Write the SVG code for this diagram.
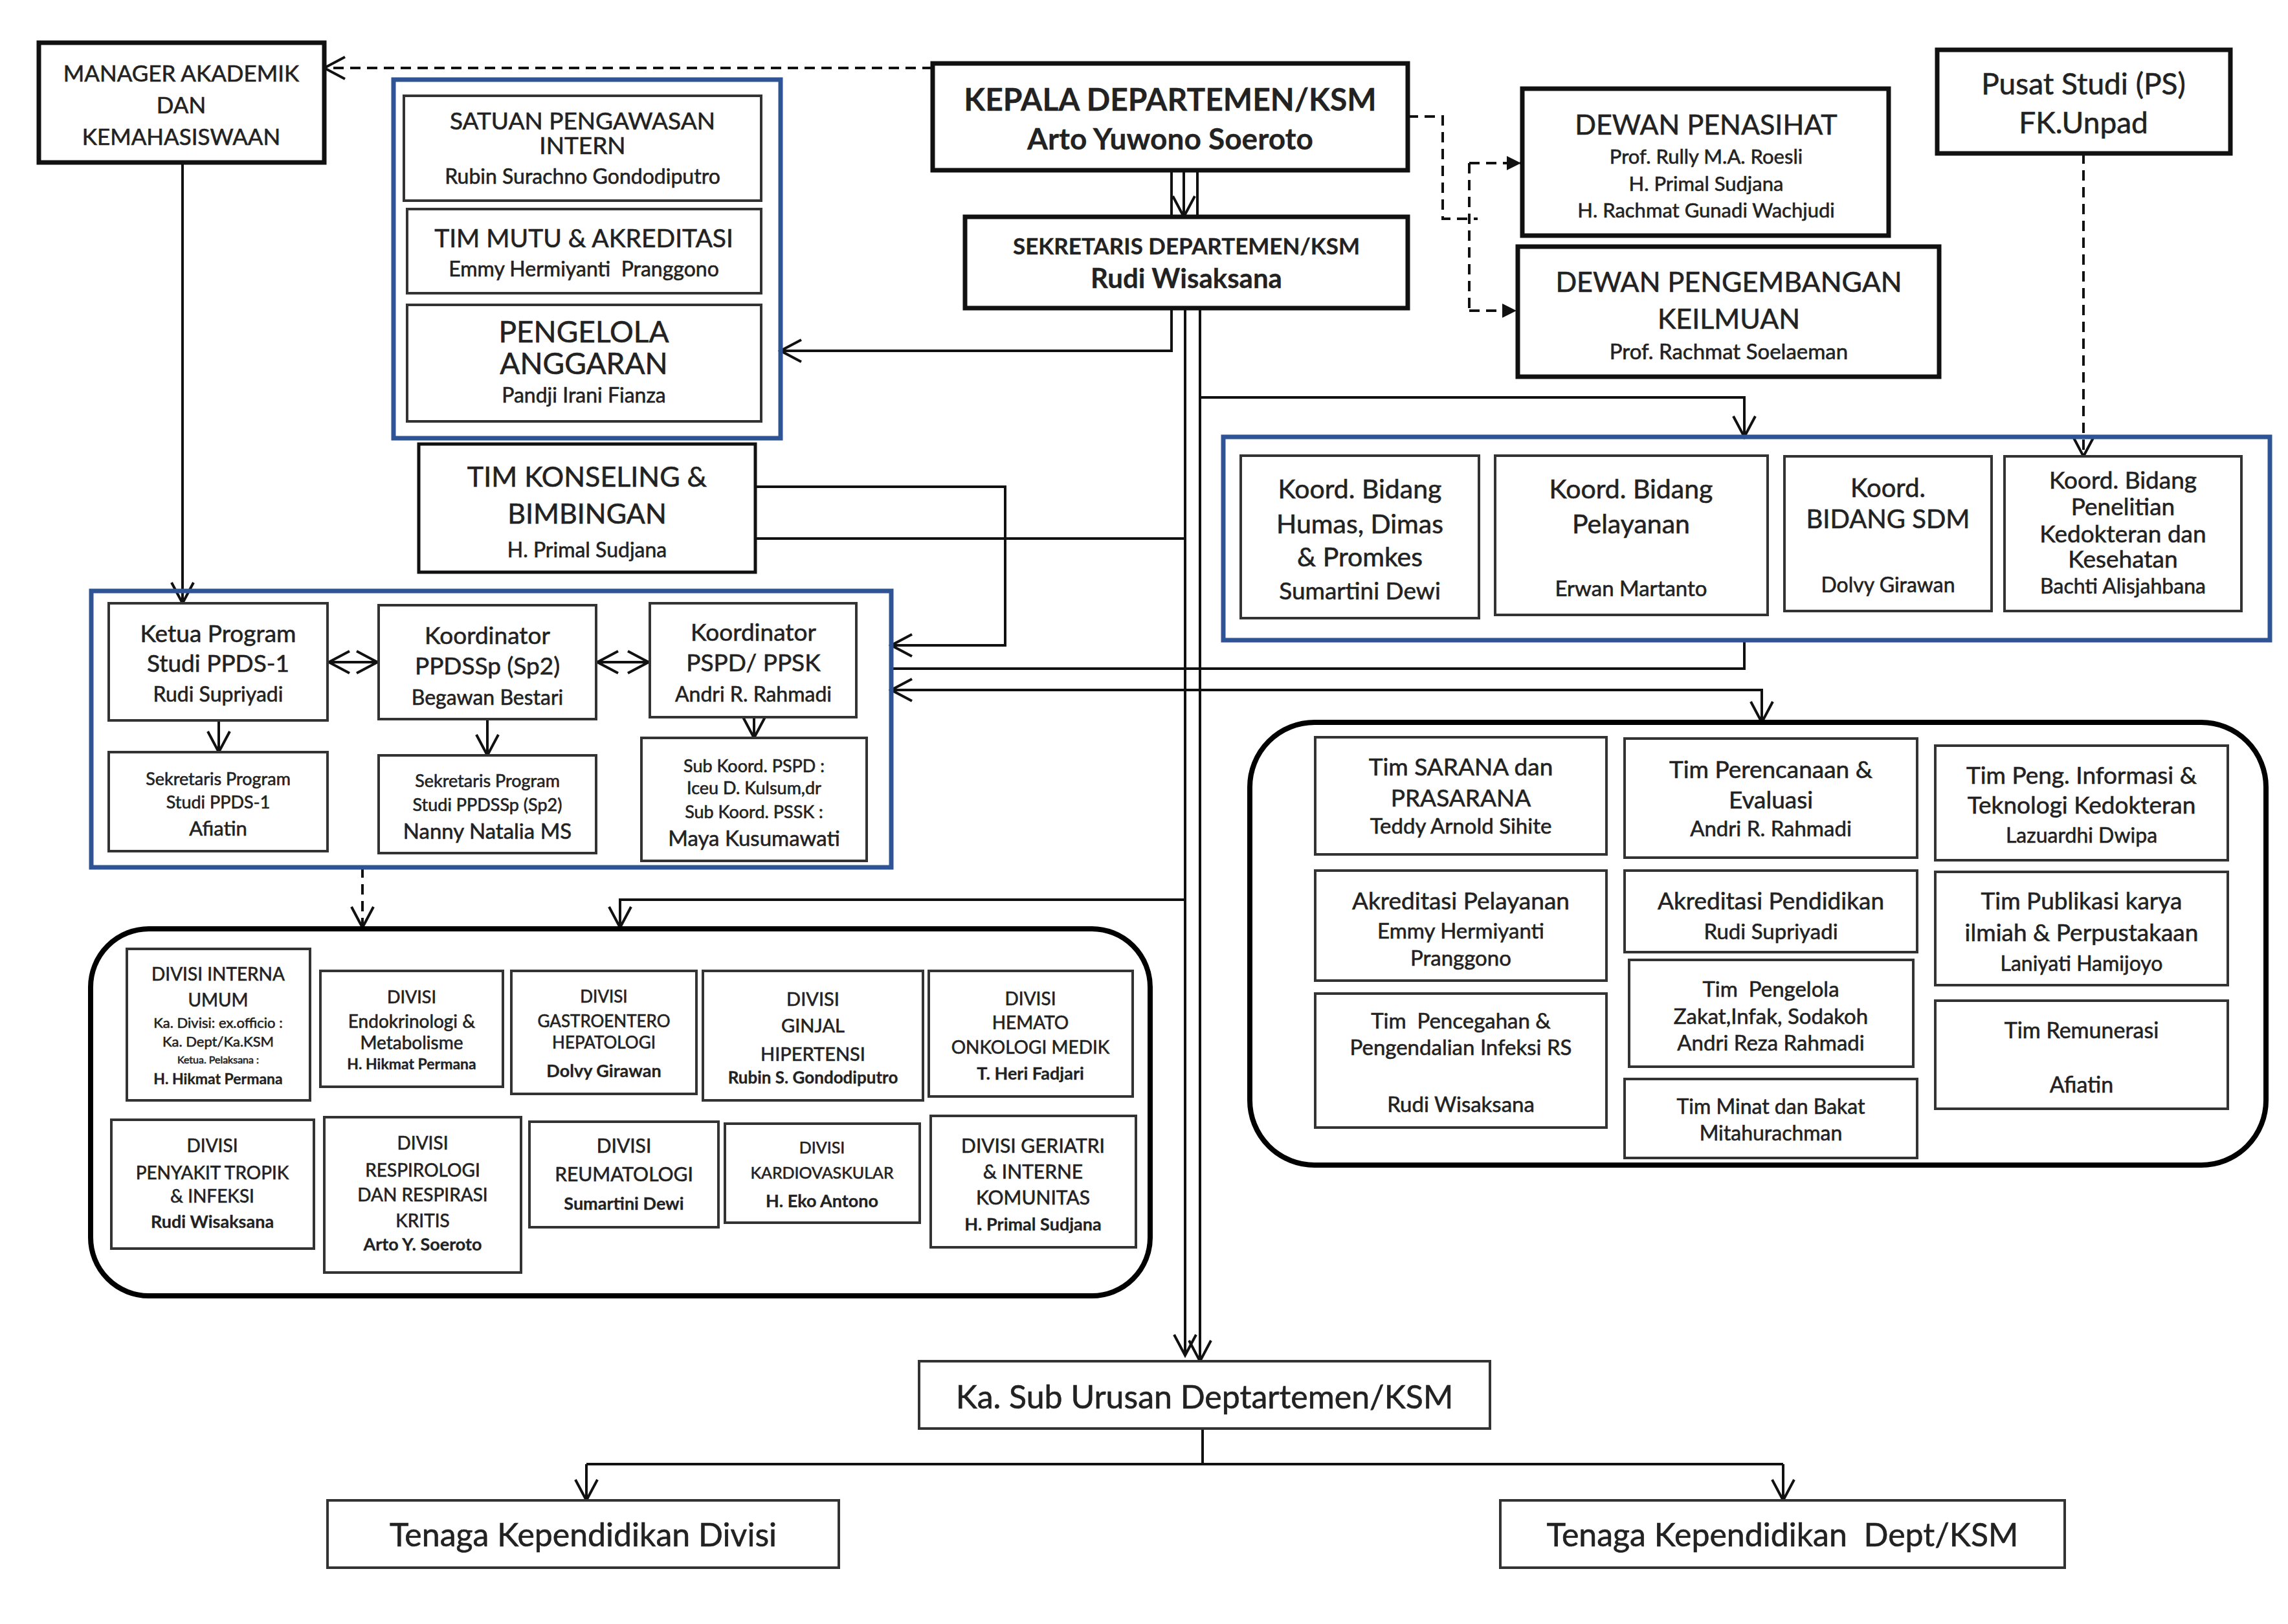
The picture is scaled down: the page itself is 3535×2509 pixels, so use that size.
<svg xmlns="http://www.w3.org/2000/svg" width="3535" height="2509" viewBox="0 0 3535 2509">
<style>
.bg{fill:#fff}
.box{fill:#fff;stroke:#111;stroke-width:7}
.ibox{fill:#fff;stroke:#333;stroke-width:4}
.blue{fill:none;stroke:#2f5496;stroke-width:7}
.rbox{fill:none;stroke:#000;stroke-width:8}
.ln{fill:none;stroke:#111;stroke-width:4}
.dash{stroke-dasharray:16 10}
text{font-family:Lato,"Liberation Sans",sans-serif;fill:#222;stroke:#222;stroke-width:0.6;text-anchor:middle;dominant-baseline:central}
.b{font-weight:bold;stroke-width:0.3}
.pre{white-space:pre}
</style>
<defs>
<marker id="ah" viewBox="0 0 40 40" refX="36" refY="20" markerWidth="40" markerHeight="40" markerUnits="userSpaceOnUse" orient="auto-start-reverse">
<path d="M4,3 L36,20 L4,37" fill="none" stroke="#111" stroke-width="4"/>
</marker>
<marker id="tri" viewBox="0 0 30 30" refX="26" refY="15" markerWidth="30" markerHeight="30" markerUnits="userSpaceOnUse" orient="auto">
<path d="M4,4 L26,15 L4,26 Z" fill="#111"/>
</marker>
</defs>
<rect class="bg" x="0" y="0" width="3535" height="2509"/>

<g id="connectors">
<path class="ln dash" d="M1441,105 H501" marker-end="url(#ah)"/>
<path class="ln" d="M1810,263 V335"/>
<path class="ln" d="M1850,263 V335"/>
<path class="ln" d="M1829,263 V335" marker-end="url(#ah)"/>
<path class="ln" d="M1810,476 V542 H1206" marker-end="url(#ah)"/>
<path class="ln" d="M1831,476 V2094" marker-end="url(#ah)"/>
<path class="ln" d="M1854,476 V2103" marker-end="url(#ah)"/>
<path class="ln" d="M1854,614 H2695 V675" marker-end="url(#ah)"/>
<path class="ln" d="M1167,832 H1831"/>
<path class="ln" d="M1167,752 H1553 V997 H1377" marker-end="url(#ah)"/>
<path class="ln" d="M1377,1033 H2695 V989"/>
<path class="ln" d="M1377,1066 H2722 V1116" marker-start="url(#ah)" marker-end="url(#ah)"/>
<path class="ln" d="M282,251 V932" marker-end="url(#ah)"/>
<path class="ln" d="M508,1023 H583" marker-start="url(#ah)" marker-end="url(#ah)"/>
<path class="ln" d="M923,1023 H1002" marker-start="url(#ah)" marker-end="url(#ah)"/>
<path class="ln" d="M338,1113 V1162" marker-end="url(#ah)"/>
<path class="ln" d="M753,1111 V1167" marker-end="url(#ah)"/>
<path class="ln" d="M1165,1108 V1140" marker-end="url(#ah)"/>
<path class="ln dash" d="M560,1340 V1433" marker-end="url(#ah)"/>
<path class="ln" d="M1831,1390 H958 V1433" marker-end="url(#ah)"/>
<path class="ln dash" d="M2175,180 H2229 V338 H2283"/>
<path class="ln dash" d="M2270,252 V480"/>
<path class="ln dash" d="M2270,252 H2350" marker-end="url(#tri)"/>
<path class="ln dash" d="M2270,480 H2343" marker-end="url(#tri)"/>
<path class="ln dash" d="M3219,237 V705" marker-end="url(#ah)"/>
<path class="ln" d="M1858,2207 V2262"/>
<path class="ln" d="M906,2262 H2755"/>
<path class="ln" d="M906,2262 V2318" marker-end="url(#ah)"/>
<path class="ln" d="M2755,2262 V2318" marker-end="url(#ah)"/>
</g>

<g id="manager">
<rect class="box" x="60" y="66" width="441" height="185"/>
<text x="280" y="112" font-size="35">MANAGER AKADEMIK</text>
<text x="280" y="161" font-size="35">DAN</text>
<text x="280" y="210" font-size="35">KEMAHASISWAAN</text>
</g>

<g id="group-pengawasan">
<rect class="blue" x="608" y="123" width="598" height="554"/>
<g id="satuan">
<rect class="ibox" x="624" y="148" width="552" height="162"/>
<text x="900" y="185" font-size="37">SATUAN PENGAWASAN</text>
<text x="900" y="223" font-size="37">INTERN</text>
<text x="900" y="271" font-size="32">Rubin Surachno Gondodiputro</text>
</g>
<g id="timmutu">
<rect class="ibox" x="629" y="323" width="547" height="130"/>
<text x="902" y="367" font-size="39">TIM MUTU &amp; AKREDITASI</text>
<text class="pre" x="902" y="414" font-size="32" xml:space="preserve">Emmy Hermiyanti  Pranggono</text>
</g>
<g id="pengelola">
<rect class="ibox" x="629" y="471" width="547" height="180"/>
<text x="902" y="511" font-size="46">PENGELOLA</text>
<text x="902" y="560" font-size="46">ANGGARAN</text>
<text x="902" y="609" font-size="32">Pandji Irani Fianza</text>
</g>
</g>

<g id="kepala">
<rect class="box" x="1441" y="98" width="734" height="165"/>
<text class="b" x="1808" y="152" font-size="48">KEPALA DEPARTEMEN/KSM</text>
<text class="b" x="1808" y="213" font-size="46">Arto Yuwono Soeroto</text>
</g>

<g id="sekretaris">
<rect class="box" x="1491" y="335" width="684" height="141"/>
<text class="b" x="1833" y="379" font-size="35">SEKRETARIS DEPARTEMEN/KSM</text>
<text class="b" x="1833" y="429" font-size="42">Rudi Wisaksana</text>
</g>

<g id="dewan-penasihat">
<rect class="box" x="2352" y="137" width="566" height="227"/>
<text x="2636" y="191" font-size="43">DEWAN PENASIHAT</text>
<text x="2636" y="241" font-size="31">Prof. Rully M.A. Roesli</text>
<text x="2636" y="283" font-size="31">H. Primal Sudjana</text>
<text x="2636" y="324" font-size="31">H. Rachmat Gunadi Wachjudi</text>
</g>

<g id="dewan-pengembangan">
<rect class="box" x="2345" y="381" width="651" height="201"/>
<text x="2671" y="434" font-size="43">DEWAN PENGEMBANGAN</text>
<text x="2671" y="491" font-size="43">KEILMUAN</text>
<text x="2671" y="542" font-size="33">Prof. Rachmat Soelaeman</text>
</g>

<g id="pusat-studi">
<rect class="box" x="2993" y="77" width="453" height="160"/>
<text x="3219" y="128" font-size="46">Pusat Studi (PS)</text>
<text x="3219" y="188" font-size="46">FK.Unpad</text>
</g>

<g id="tim-konseling">
<rect class="box" x="647" y="686" width="520" height="198" style="stroke-width:5"/>
<text x="907" y="735" font-size="43">TIM KONSELING &amp;</text>
<text x="907" y="792" font-size="43">BIMBINGAN</text>
<text x="907" y="848" font-size="32">H. Primal Sudjana</text>
</g>

<g id="group-program">
<rect class="blue" x="141" y="913" width="1236" height="427"/>
<g id="ketua">
<rect class="ibox" x="168" y="932" width="338" height="181"/>
<text x="337" y="977" font-size="37">Ketua Program</text>
<text x="337" y="1023" font-size="37">Studi PPDS-1</text>
<text x="337" y="1071" font-size="32">Rudi Supriyadi</text>
</g>
<g id="koord-ppdssp">
<rect class="ibox" x="585" y="935" width="336" height="176"/>
<text x="753" y="980" font-size="37">Koordinator</text>
<text x="753" y="1027" font-size="37">PPDSSp (Sp2)</text>
<text x="753" y="1076" font-size="32">Begawan Bestari</text>
</g>
<g id="koord-pspd">
<rect class="ibox" x="1004" y="932" width="319" height="176"/>
<text x="1164" y="975" font-size="37">Koordinator</text>
<text x="1164" y="1022" font-size="37">PSPD/ PPSK</text>
<text x="1164" y="1071" font-size="32">Andri R. Rahmadi</text>
</g>
<g id="sek-ppds1">
<rect class="ibox" x="168" y="1162" width="338" height="153"/>
<text x="337" y="1202" font-size="27">Sekretaris Program</text>
<text x="337" y="1238" font-size="27">Studi PPDS-1</text>
<text x="337" y="1279" font-size="31">Afiatin</text>
</g>
<g id="sek-ppdssp">
<rect class="ibox" x="585" y="1167" width="336" height="151"/>
<text x="753" y="1205" font-size="27">Sekretaris Program</text>
<text x="753" y="1242" font-size="27">Studi PPDSSp (Sp2)</text>
<text x="753" y="1283" font-size="33">Nanny Natalia MS</text>
</g>
<g id="subkoord">
<rect class="ibox" x="991" y="1140" width="348" height="190"/>
<text x="1165" y="1182" font-size="27">Sub Koord. PSPD :</text>
<text x="1165" y="1216" font-size="27">Iceu D. Kulsum,dr</text>
<text x="1165" y="1253" font-size="27">Sub Koord. PSSK :</text>
<text x="1165" y="1294" font-size="33">Maya Kusumawati</text>
</g>
</g>

<g id="group-koord-bidang">
<rect class="blue" x="1890" y="675" width="1617" height="314"/>
<g id="humas">
<rect class="ibox" x="1917" y="704" width="368" height="251"/>
<text x="2101" y="754" font-size="41">Koord. Bidang</text>
<text x="2101" y="808" font-size="41">Humas, Dimas</text>
<text x="2101" y="859" font-size="41">&amp; Promkes</text>
<text x="2101" y="911" font-size="37">Sumartini Dewi</text>
</g>
<g id="pelayanan">
<rect class="ibox" x="2310" y="704" width="421" height="246"/>
<text x="2520" y="754" font-size="41">Koord. Bidang</text>
<text x="2520" y="808" font-size="41">Pelayanan</text>
<text x="2520" y="908" font-size="33">Erwan Martanto</text>
</g>
<g id="sdm">
<rect class="ibox" x="2757" y="705" width="320" height="239"/>
<text x="2917" y="753" font-size="40">Koord.</text>
<text x="2917" y="801" font-size="40">BIDANG SDM</text>
<text x="2917" y="902" font-size="32">Dolvy Girawan</text>
</g>
<g id="penelitian">
<rect class="ibox" x="3097" y="705" width="366" height="239"/>
<text x="3280" y="740" font-size="37">Koord. Bidang</text>
<text x="3280" y="781" font-size="37">Penelitian</text>
<text x="3280" y="823" font-size="37">Kedokteran dan</text>
<text x="3280" y="862" font-size="37">Kesehatan</text>
<text x="3280" y="904" font-size="32">Bachti Alisjahbana</text>
</g>
</g>

<g id="group-tim">
<rect class="rbox" x="1931" y="1116" width="1570" height="684" rx="100" ry="100"/>
<g id="tim-sarana">
<rect class="ibox" x="2032" y="1139" width="450" height="181"/>
<text x="2257" y="1183" font-size="37">Tim SARANA dan</text>
<text x="2257" y="1231" font-size="37">PRASARANA</text>
<text x="2257" y="1275" font-size="33">Teddy Arnold Sihite</text>
</g>
<g id="akr-pelayanan">
<rect class="ibox" x="2032" y="1345" width="450" height="170"/>
<text x="2257" y="1390" font-size="37">Akreditasi Pelayanan</text>
<text x="2257" y="1437" font-size="33">Emmy Hermiyanti</text>
<text x="2257" y="1479" font-size="33">Pranggono</text>
</g>
<g id="tim-pencegahan">
<rect class="ibox" x="2032" y="1535" width="450" height="207"/>
<text class="pre" x="2257" y="1576" font-size="33" xml:space="preserve">Tim  Pencegahan &amp;</text>
<text x="2257" y="1617" font-size="33">Pengendalian Infeksi RS</text>
<text x="2257" y="1705" font-size="33">Rudi Wisaksana</text>
</g>
<g id="tim-perencanaan">
<rect class="ibox" x="2510" y="1141" width="452" height="184"/>
<text x="2736" y="1187" font-size="37">Tim Perencanaan &amp;</text>
<text x="2736" y="1234" font-size="37">Evaluasi</text>
<text x="2736" y="1279" font-size="33">Andri R. Rahmadi</text>
</g>
<g id="akr-pendidikan">
<rect class="ibox" x="2510" y="1345" width="452" height="126"/>
<text x="2736" y="1390" font-size="37">Akreditasi Pendidikan</text>
<text x="2736" y="1438" font-size="33">Rudi Supriyadi</text>
</g>
<g id="tim-pengelola">
<rect class="ibox" x="2517" y="1483" width="439" height="165"/>
<text class="pre" x="2736" y="1527" font-size="33" xml:space="preserve">Tim  Pengelola</text>
<text x="2736" y="1569" font-size="33">Zakat,Infak, Sodakoh</text>
<text x="2736" y="1610" font-size="33">Andri Reza Rahmadi</text>
</g>
<g id="tim-minat">
<rect class="ibox" x="2510" y="1667" width="452" height="122"/>
<text x="2736" y="1708" font-size="32">Tim Minat dan Bakat</text>
<text x="2736" y="1749" font-size="32">Mitahurachman</text>
</g>
<g id="tim-informasi">
<rect class="ibox" x="2990" y="1152" width="452" height="177"/>
<text x="3216" y="1196" font-size="37">Tim Peng. Informasi &amp;</text>
<text x="3216" y="1242" font-size="37">Teknologi Kedokteran</text>
<text x="3216" y="1289" font-size="32">Lazuardhi Dwipa</text>
</g>
<g id="tim-publikasi">
<rect class="ibox" x="2990" y="1347" width="452" height="175"/>
<text x="3216" y="1390" font-size="37">Tim Publikasi karya</text>
<text x="3216" y="1439" font-size="37">ilmiah &amp; Perpustakaan</text>
<text x="3216" y="1487" font-size="32">Laniyati Hamijoyo</text>
</g>
<g id="tim-remunerasi">
<rect class="ibox" x="2990" y="1546" width="452" height="167"/>
<text x="3216" y="1590" font-size="34">Tim Remunerasi</text>
<text x="3216" y="1674" font-size="34">Afiatin</text>
</g>
</g>

<g id="group-divisi">
<rect class="rbox" x="140" y="1435" width="1637" height="567" rx="90" ry="90"/>
<g id="div-interna">
<rect class="ibox" x="196" y="1466" width="283" height="234"/>
<text x="337" y="1504" font-size="28">DIVISI INTERNA</text>
<text x="337" y="1544" font-size="28">UMUM</text>
<text x="337" y="1579" font-size="22">Ka. Divisi: ex.officio :</text>
<text x="337" y="1608" font-size="22">Ka. Dept/Ka.KSM</text>
<text x="337" y="1636" font-size="16">Ketua. Pelaksana :</text>
<text class="b" x="337" y="1666" font-size="23">H. Hikmat Permana</text>
</g>
<g id="div-endokrin">
<rect class="ibox" x="495" y="1500" width="282" height="179"/>
<text x="636" y="1539" font-size="27">DIVISI</text>
<text x="636" y="1577" font-size="28">Endokrinologi &amp;</text>
<text x="636" y="1610" font-size="28">Metabolisme</text>
<text class="b" x="636" y="1643" font-size="23">H. Hikmat Permana</text>
</g>
<g id="div-gastro">
<rect class="ibox" x="790" y="1500" width="286" height="190"/>
<text x="933" y="1539" font-size="26">DIVISI</text>
<text x="933" y="1577" font-size="26">GASTROENTERO</text>
<text x="933" y="1610" font-size="26">HEPATOLOGI</text>
<text class="b" x="933" y="1653" font-size="27">Dolvy Girawan</text>
</g>
<g id="div-ginjal">
<rect class="ibox" x="1086" y="1500" width="340" height="200"/>
<text x="1256" y="1542" font-size="29">DIVISI</text>
<text x="1256" y="1583" font-size="29">GINJAL</text>
<text x="1256" y="1627" font-size="29">HIPERTENSI</text>
<text class="b" x="1256" y="1664" font-size="26">Rubin S. Gondodiputro</text>
</g>
<g id="div-hemato">
<rect class="ibox" x="1435" y="1500" width="315" height="194"/>
<text x="1592" y="1542" font-size="28">DIVISI</text>
<text x="1592" y="1579" font-size="28">HEMATO</text>
<text x="1592" y="1617" font-size="28">ONKOLOGI MEDIK</text>
<text class="b" x="1592" y="1657" font-size="27">T. Heri Fadjari</text>
</g>
<g id="div-tropik">
<rect class="ibox" x="172" y="1730" width="313" height="199"/>
<text x="328" y="1769" font-size="28">DIVISI</text>
<text x="328" y="1811" font-size="28">PENYAKIT TROPIK</text>
<text x="328" y="1847" font-size="28">&amp; INFEKSI</text>
<text class="b" x="328" y="1886" font-size="27">Rudi Wisaksana</text>
</g>
<g id="div-respirologi">
<rect class="ibox" x="501" y="1726" width="304" height="240"/>
<text x="653" y="1765" font-size="28">DIVISI</text>
<text x="653" y="1807" font-size="28">RESPIROLOGI</text>
<text x="653" y="1845" font-size="28">DAN RESPIRASI</text>
<text x="653" y="1885" font-size="28">KRITIS</text>
<text class="b" x="653" y="1921" font-size="27">Arto Y. Soeroto</text>
</g>
<g id="div-reumatologi">
<rect class="ibox" x="818" y="1733" width="292" height="163"/>
<text x="964" y="1769" font-size="30">DIVISI</text>
<text x="964" y="1813" font-size="30">REUMATOLOGI</text>
<text x="964" y="1858" font-size="27" class="b">Sumartini Dewi</text>
</g>
<g id="div-kardio">
<rect class="ibox" x="1120" y="1736" width="301" height="153"/>
<text x="1270" y="1772" font-size="25">DIVISI</text>
<text x="1270" y="1811" font-size="25">KARDIOVASKULAR</text>
<text class="b" x="1270" y="1854" font-size="27">H. Eko Antono</text>
</g>
<g id="div-geriatri">
<rect class="ibox" x="1438" y="1724" width="317" height="203"/>
<text x="1596" y="1769" font-size="30">DIVISI GERIATRI</text>
<text x="1596" y="1809" font-size="30">&amp; INTERNE</text>
<text x="1596" y="1849" font-size="30">KOMUNITAS</text>
<text class="b" x="1596" y="1890" font-size="27">H. Primal Sudjana</text>
</g>
</g>

<g id="ka-sub-urusan">
<rect class="ibox" x="1420" y="2103" width="882" height="104"/>
<text x="1861" y="2157" font-size="50">Ka. Sub Urusan Deptartemen/KSM</text>
</g>
<g id="tenaga-divisi">
<rect class="ibox" x="506" y="2318" width="790" height="104"/>
<text x="901" y="2370" font-size="50">Tenaga Kependidikan Divisi</text>
</g>
<g id="tenaga-dept">
<rect class="ibox" x="2318" y="2318" width="872" height="104"/>
<text class="pre" x="2754" y="2370" font-size="50" xml:space="preserve">Tenaga Kependidikan  Dept/KSM</text>
</g>
</svg>
